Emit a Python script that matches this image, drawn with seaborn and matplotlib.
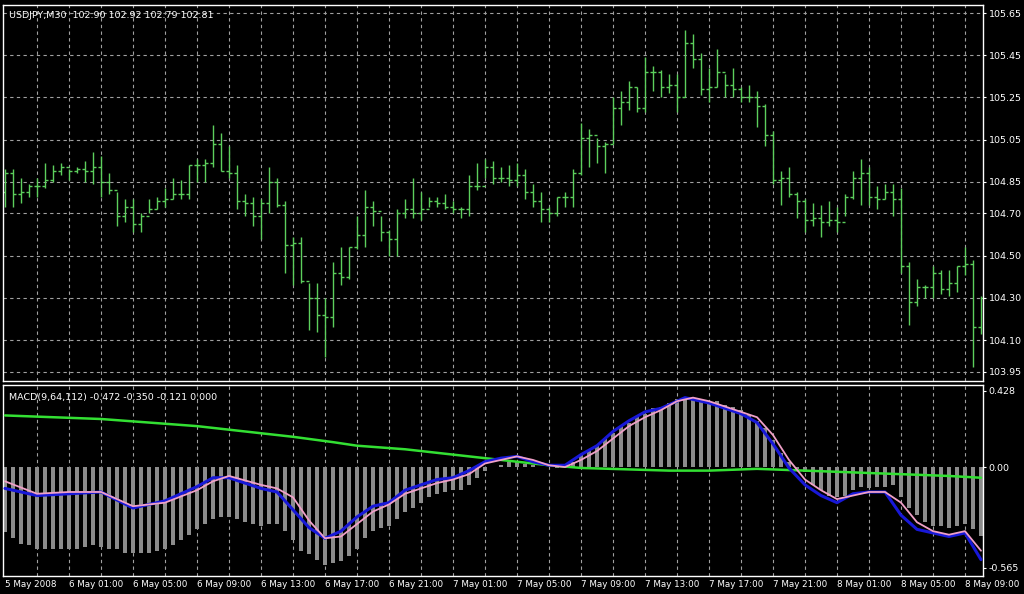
import matplotlib
matplotlib.use("Agg")
import matplotlib.pyplot as plt
import seaborn as sns
import numpy as np
import pandas as pd

highs = [104.91,104.91,104.87,104.84,104.87,104.94,104.93,104.94,104.91,104.92,
         104.95,104.99,104.97,104.89,104.80,104.77,104.77,104.70,104.77,104.78,
         104.82,104.87,104.86,104.93,104.96,104.96,105.12,105.08,105.02,104.93,
         104.79,104.78,104.77,104.92,104.87,104.76,104.59,104.59,104.37,104.37,
         104.30,104.47,104.54,104.54,104.69,104.81,104.76,104.69,104.62,104.72,
         104.77,104.87,104.80,104.78,104.78,104.79,104.76,104.73,104.88,104.94,
         104.96,104.95,104.92,104.93,104.94,104.91,104.84,104.80,104.73,104.78,
         104.80,104.91,105.13,105.10,105.06,105.04,105.25,105.28,105.33,105.30,
         105.44,105.40,105.38,105.36,105.36,105.57,105.55,105.46,105.39,105.48,
         105.36,105.39,105.30,105.31,105.28,105.22,105.09,104.90,104.92,104.80,
         104.77,104.75,104.74,104.76,104.73,104.79,104.90,104.96,104.92,104.83,
         104.84,104.84,104.82,104.47,104.39,104.36,104.45,104.43,104.43,104.45,
         104.54,104.48,104.31]
lows = [104.73,104.73,104.75,104.78,104.78,104.82,104.85,104.88,104.86,104.89,
        104.85,104.84,104.78,104.79,104.64,104.66,104.61,104.61,104.70,104.72,
        104.73,104.77,104.77,104.77,104.85,104.85,104.92,104.90,104.87,104.72,
        104.69,104.64,104.58,104.70,104.73,104.42,104.36,104.37,104.15,104.14,
        104.02,104.16,104.36,104.39,104.53,104.54,104.64,104.57,104.50,104.50,
        104.68,104.68,104.67,104.73,104.73,104.72,104.70,104.68,104.69,104.81,
        104.87,104.84,104.85,104.83,104.83,104.77,104.73,104.66,104.66,104.69,
        104.73,104.73,104.88,104.92,104.94,104.89,105.03,105.12,105.19,105.18,
        105.18,105.28,105.25,105.27,105.18,105.25,105.39,105.26,105.23,105.30,
        105.25,105.25,105.23,105.23,105.11,105.02,104.84,104.74,104.78,104.68,
        104.61,104.64,104.59,104.64,104.61,104.69,104.77,104.74,104.74,104.72,
        104.77,104.69,104.42,104.17,104.26,104.30,104.30,104.32,104.31,104.33,
        104.41,103.97,104.13]
closes = [104.89,104.79,104.80,104.83,104.83,104.86,104.90,104.92,104.90,104.91,
          104.90,104.92,104.85,104.81,104.69,104.73,104.65,104.69,104.72,104.76,
          104.77,104.79,104.79,104.93,104.93,104.94,105.03,104.90,104.89,104.76,
          104.75,104.69,104.75,104.85,104.74,104.55,104.56,104.38,104.30,104.22,
          104.21,104.42,104.40,104.54,104.60,104.73,104.71,104.61,104.58,104.70,
          104.72,104.70,104.72,104.76,104.75,104.73,104.72,104.72,104.83,104.83,
          104.92,104.87,104.87,104.86,104.88,104.80,104.76,104.72,104.70,104.78,
          104.78,104.89,105.06,105.07,105.02,105.03,105.20,105.23,105.30,105.20,
          105.37,105.37,105.30,105.31,105.25,105.51,105.43,105.29,105.30,105.37,
          105.31,105.29,105.25,105.25,105.21,105.07,104.86,104.87,104.79,104.76,
          104.67,104.68,104.66,104.67,104.66,104.78,104.87,104.89,104.78,104.77,
          104.80,104.77,104.45,104.28,104.35,104.35,104.42,104.34,104.37,104.45,
          104.46,104.16,104.30]
first_open = 104.80

hist = [-0.365,-0.40,-0.43,-0.44,-0.46,-0.46,-0.46,-0.46,-0.46,-0.46,
        -0.45,-0.44,-0.45,-0.46,-0.46,-0.48,-0.48,-0.48,-0.48,-0.47,
        -0.46,-0.44,-0.41,-0.38,-0.35,-0.32,-0.29,-0.28,-0.28,-0.29,
        -0.31,-0.32,-0.33,-0.32,-0.32,-0.36,-0.41,-0.47,-0.49,-0.52,
        -0.55,-0.54,-0.53,-0.50,-0.46,-0.40,-0.36,-0.34,-0.33,-0.29,
        -0.25,-0.23,-0.20,-0.17,-0.15,-0.14,-0.13,-0.13,-0.10,-0.06,
        -0.02,0.0,0.01,0.03,0.03,0.02,0.01,0.0,0.0,-0.005,
        0.0,0.03,0.07,0.09,0.12,0.16,0.19,0.23,0.25,0.28,
        0.30,0.33,0.34,0.36,0.38,0.39,0.38,0.38,0.37,0.37,
        0.35,0.34,0.32,0.29,0.26,0.22,0.15,0.08,0.03,-0.01,
        -0.03,-0.10,-0.13,-0.16,-0.17,-0.16,-0.13,-0.11,-0.12,-0.11,
        -0.11,-0.10,-0.17,-0.23,-0.27,-0.31,-0.33,-0.33,-0.34,-0.33,
        -0.32,-0.35,-0.39]

blue_idx = [0,4,8,12,16,20,24,26,28,32,34,36,38,40,42,44,46,48,50,52,54,56,58,60,62,64,66,68,70,
            72,74,76,78,80,82,84,85,86,88,90,92,94,96,98,100,102,104,106,108,110,112,114,116,118,120,122]
blue_val = [-0.12,-0.16,-0.15,-0.14,-0.23,-0.19,-0.11,-0.06,-0.06,-0.12,-0.14,-0.24,-0.34,-0.40,-0.36,
            -0.28,-0.22,-0.20,-0.13,-0.10,-0.07,-0.06,-0.02,0.03,0.05,0.06,0.03,0.01,0.01,
            0.07,0.12,0.20,0.26,0.31,0.33,0.37,0.39,0.38,0.36,0.33,0.30,0.25,0.13,-0.005,-0.10,
            -0.16,-0.20,-0.15,-0.14,-0.14,-0.27,-0.35,-0.37,-0.39,-0.37,-0.52]
pink_idx = [0,4,8,12,16,20,24,26,28,32,34,36,38,40,42,44,46,48,50,52,54,56,58,60,62,64,66,68,70,
            72,74,76,78,80,82,84,86,88,90,92,94,96,98,100,102,104,106,108,110,112,114,116,118,120,122]
pink_val = [-0.08,-0.15,-0.14,-0.14,-0.22,-0.20,-0.13,-0.08,-0.05,-0.10,-0.12,-0.17,-0.30,-0.40,-0.39,
            -0.32,-0.25,-0.21,-0.15,-0.12,-0.09,-0.07,-0.04,0.02,0.04,0.06,0.04,0.01,0.0,
            0.04,0.09,0.16,0.23,0.28,0.32,0.37,0.39,0.37,0.34,0.31,0.28,0.18,0.04,-0.07,
            -0.13,-0.18,-0.16,-0.14,-0.14,-0.20,-0.31,-0.36,-0.38,-0.36,-0.47]
green_idx = [0,12,24,28,36,41,44,50,56,60,64,68,72,83,88,94,100,106,112,118,122]
green_val = [0.29,0.27,0.23,0.21,0.17,0.14,0.12,0.10,0.07,0.05,0.03,0.01,-0.005,-0.02,-0.02,-0.01,
             -0.02,-0.03,-0.04,-0.05,-0.06]

date_labels = ["5 May 2008","6 May 01:00","6 May 05:00","6 May 09:00","6 May 13:00","6 May 17:00",
               "6 May 21:00","7 May 01:00","7 May 05:00","7 May 09:00","7 May 13:00","7 May 17:00",
               "7 May 21:00","8 May 01:00","8 May 05:00","8 May 09:00"]
price_ticks = [105.65,105.45,105.25,105.05,104.85,104.70,104.50,104.30,104.10,103.95]
macd_ticks = [0.428,0.0,-0.565]
macd_tick_labels = ["0.428","0.00","-0.565"]
title_text = "USDJPY,M30  102.90 102.92 102.79 102.81"
macd_text = "MACD(9,64,112) -0.472 -0.350 -0.121 0.000"

sns.set_style("dark")
plt.rcParams['font.family'] = ['DejaVu Sans']
W, H = 1024, 594
fig = plt.figure(figsize=(W/100, H/100), dpi=100, facecolor='black')

def add_ax(x0, y0, x1, y1):
    return fig.add_axes([x0/W, 1-y1/H, (x1-x0)/W, (y1-y0)/H])

ax1 = add_ax(3, 5, 983, 381)
ax2 = add_ax(3, 385, 983, 576)
n = len(closes)
idx = np.arange(n)
opens = [first_open] + closes[:-1]
green = '#5ccf5c'
grid_kw = dict(color='#a0a0a0', ls=(0, (3, 3)), lw=0.8, zorder=0)

for ax in (ax1, ax2):
    ax.set_facecolor('black')
    for s in ax.spines.values():
        s.set_color('white'); s.set_linewidth(1)
    ax.set_xlim(-0.25, n - 1 + 0.25)
    for g in range(4, n, 4):
        ax.axvline(g, **grid_kw)
    ax.grid(False)
    ax.tick_params(colors='white', labelsize=6.8, length=2, pad=2)

# price
ax1.vlines(idx, lows, highs, color=green, lw=1)
ax1.hlines(opens, idx - 0.4, idx, color=green, lw=1)
ax1.hlines(closes, idx, idx + 0.4, color=green, lw=1)
ax1.set_ylim(103.906, 105.688)
for t in price_ticks:
    ax1.axhline(t, **grid_kw)
ax1.yaxis.tick_right()
ax1.set_yticks(price_ticks, [f"{t:.2f}" for t in price_ticks])
ax1.set_xticks([])
ax1.text(0.006, 0.985, title_text, transform=ax1.transAxes, color='white', fontsize=6.8, va='top', ha='left')

# macd
ax2.bar(idx, hist, width=0.38, color='#8c8c8c', edgecolor='none', linewidth=0, zorder=2)
df_g = pd.DataFrame({'x': green_idx, 'y': green_val})
df_p = pd.DataFrame({'x': pink_idx, 'y': pink_val})
df_b = pd.DataFrame({'x': blue_idx, 'y': blue_val})
sns.lineplot(data=df_g, x='x', y='y', ax=ax2, color='#33e033', lw=1.8, zorder=3)
sns.lineplot(data=df_b, x='x', y='y', ax=ax2, color='#1818d8', lw=2.2, zorder=4)
sns.lineplot(data=df_p, x='x', y='y', ax=ax2, color='#f0a0c8', lw=1.3, zorder=5)
ax2.set_ylim(-0.612, 0.461)
ax2.yaxis.tick_right()
ax2.set_yticks(macd_ticks, macd_tick_labels)
ax2.set_xlabel(''); ax2.set_ylabel('')
ax2.set_xticks(np.arange(0, n, 8), date_labels)
ax2.tick_params(axis='x', labelsize=6.3, length=0, pad=3)
for lab in ax2.get_xticklabels():
    lab.set_ha('left')
ax2.text(0.006, 0.96, macd_text, transform=ax2.transAxes, color='white', fontsize=6.8, va='top', ha='left')

fig.savefig('out.png', dpi=100, facecolor='black')
